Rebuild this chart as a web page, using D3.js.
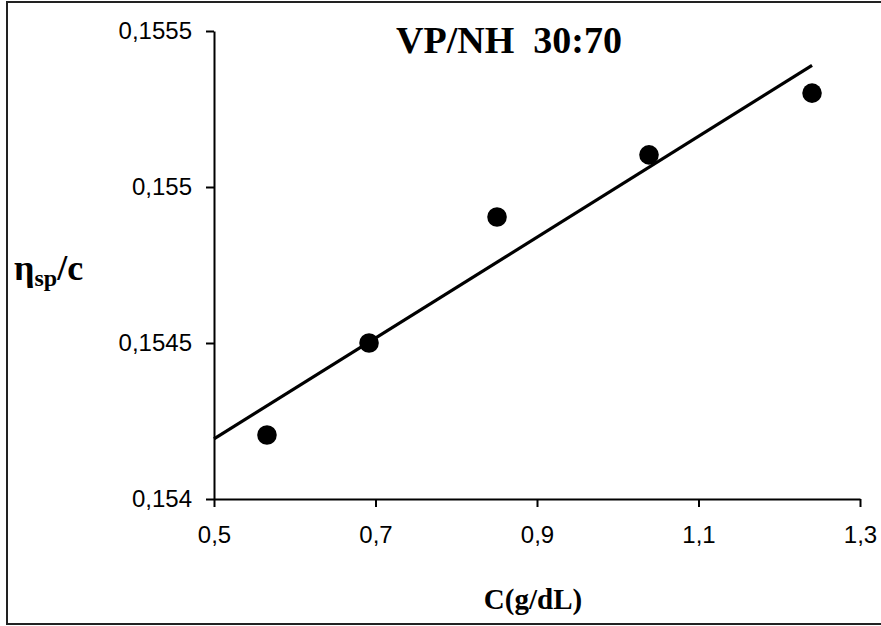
<!DOCTYPE html>
<html>
<head>
<meta charset="utf-8">
<script src="https://cdn.jsdelivr.net/npm/d3@7"></script>
<style>
  body { margin: 0; background: #fff; }
  svg { display: block; }
</style>
</head>
<body>
<div id="chart"></div>
<script>
"use strict";
// concentration C (g/dL) and reduced viscosity
var concentrations = [0.5656, 0.692, 0.8505, 1.0387, 1.2406];
var reducedViscosity = [0.154205, 0.1545, 0.154904, 0.155103, 0.155301];
var xTicks = [0.5, 0.7, 0.9, 1.1, 1.3];
var yTicks = [0.154, 0.1545, 0.155, 0.1555];
var chartTitle = "VP/NH  30:70";
var xTitle = "C(g/dL)";

var width = 881;
var height = 626;

var svg = d3.select("#chart").append("svg")
    .attr("width", width)
    .attr("height", height);

// outer frame
svg.append("rect")
    .attr("x", 7)
    .attr("y", 2)
    .attr("width", 880)
    .attr("height", 622)
    .attr("fill", "none")
    .attr("stroke", "#222")
    .attr("stroke-width", 2);

var x = d3.scaleLinear().domain([0.5, 1.3]).range([214, 860]);
var y = d3.scaleLinear().domain([0.154, 0.1555]).range([499, 31]);

var commaFormat = function (d) { return String(d).replace(".", ","); };

var xAxis = svg.append("g")
    .attr("transform", "translate(0," + y(0.154) + ")")
    .call(d3.axisBottom(x).tickValues(xTicks).tickSize(8).tickSizeOuter(0).tickPadding(19)
        .tickFormat(commaFormat));

var yAxis = svg.append("g")
    .attr("transform", "translate(" + x(0.5) + ",0)")
    .call(d3.axisLeft(y).tickValues(yTicks).tickSize(8).tickSizeOuter(0).tickPadding(14)
        .tickFormat(commaFormat));

[xAxis, yAxis].forEach(function (g) {
    g.attr("font-size", null).attr("font-family", null);
    g.select(".domain").attr("stroke", "#000").attr("stroke-width", 2);
    g.selectAll(".tick line").attr("stroke", "#000").attr("stroke-width", 2);
    g.selectAll(".tick text")
        .attr("fill", "#000")
        .style("font-family", "'Liberation Sans', Arial, sans-serif")
        .style("font-size", "24px");
});

// least squares trend line, from the y axis to the last point
var n = concentrations.length;
var mx = d3.mean(concentrations);
var my = d3.mean(reducedViscosity);
var sxy = 0, sxx = 0;
for (var i = 0; i < n; i++) {
    sxy += (concentrations[i] - mx) * (reducedViscosity[i] - my);
    sxx += (concentrations[i] - mx) * (concentrations[i] - mx);
}
var slope = sxy / sxx;
var intercept = my - slope * mx;
var x0 = 0.5, x1 = d3.max(concentrations);

svg.append("line")
    .attr("x1", x(x0))
    .attr("y1", y(intercept + slope * x0))
    .attr("x2", x(x1))
    .attr("y2", y(intercept + slope * x1))
    .attr("stroke", "#000")
    .attr("stroke-width", 3.2);

svg.append("g")
    .selectAll("circle")
    .data(concentrations)
    .enter()
    .append("circle")
    .attr("cx", function (d) { return x(d); })
    .attr("cy", function (d, i) { return y(reducedViscosity[i]); })
    .attr("r", 9.8)
    .attr("fill", "#000");

var serif = "'Liberation Serif', 'Times New Roman', serif";

svg.append("text")
    .attr("x", 509)
    .attr("y", 53)
    .attr("text-anchor", "middle")
    .style("font-family", serif)
    .style("font-weight", "bold")
    .style("font-size", "38px")
    .style("white-space", "pre")
    .text(chartTitle);

svg.append("text")
    .attr("x", 533)
    .attr("y", 609)
    .attr("text-anchor", "middle")
    .style("font-family", serif)
    .style("font-weight", "bold")
    .style("font-size", "29px")
    .text(xTitle);

var yLabel = svg.append("text")
    .attr("x", 14)
    .attr("y", 280)
    .style("font-family", serif)
    .style("font-weight", "bold")
    .style("font-size", "36px");
yLabel.append("tspan").text("\u03b7");
yLabel.append("tspan").attr("dy", 6).style("font-size", "24px").text("sp");
yLabel.append("tspan").attr("dy", -6).text("/c");
</script>
</body>
</html>
